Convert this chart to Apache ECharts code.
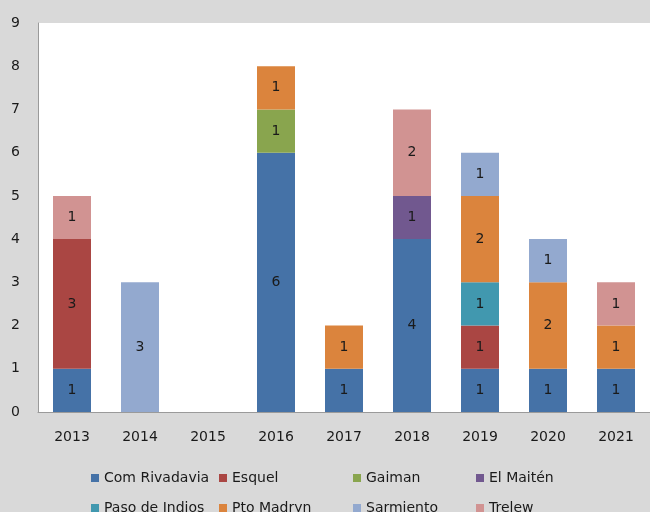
<!DOCTYPE html>
<html>
<head>
<meta charset="utf-8">
<script src="https://cdn.jsdelivr.net/npm/echarts@6/dist/echarts.min.js"></script>
<style>
  html, body { margin: 0; padding: 0; background: #d9d9d9; }
  #chart { width: 650px; height: 512px; }
</style>
</head>
<body>
<div id="chart"></div>
<script>
var years = ['2013', '2014', '2015', '2016', '2017', '2018', '2019', '2020', '2021']
var names = ['Com Rivadavia', 'Esquel', 'Gaiman', 'El Maitén', 'Paso de Indios', 'Pto Madryn', 'Sarmiento', 'Trelew']
var colors = ['#4572a7', '#aa4643', '#89a54e', '#71588f', '#4198af', '#db843d', '#93a9cf', '#d19392']

var comRivadavia = [1, 0, 0, 6, 1, 4, 1, 1, 1]
var esquel = [3, 0, 0, 0, 0, 0, 1, 0, 0]
var gaiman = [0, 0, 0, 1, 0, 0, 0, 0, 0]
var elMaiten = [0, 0, 0, 0, 0, 1, 0, 0, 0]
var pasoDeIndios = [0, 0, 0, 0, 0, 0, 1, 0, 0]
var ptoMadryn = [0, 0, 0, 1, 1, 0, 2, 2, 1]
var sarmiento = [0, 3, 0, 0, 0, 0, 1, 1, 0]
var trelew = [1, 0, 0, 0, 0, 2, 0, 0, 1]

var values = [comRivadavia, esquel, gaiman, elMaiten, pasoDeIndios, ptoMadryn, sarmiento, trelew]

var font = 'DejaVu Sans'
var chart = echarts.init(document.getElementById('chart'))

// one legend per item so they sit in a 4 column grid
var legendLeft = [86, 214, 348, 471]
var legendTop = [466, 496]
var legends = names.map(function (n, i) {
  return {
    data: [n],
    left: legendLeft[i % 4],
    top: legendTop[Math.floor(i / 4)],
    icon: 'rect',
    itemWidth: 8,
    itemHeight: 8,
    itemGap: 6,
    selectedMode: false,
    textStyle: { fontFamily: font, fontSize: 14, color: '#1a1a1a' }
  }
})

var series = names.map(function (n, i) {
  return {
    name: n,
    type: 'bar',
    stack: 'total',
    barWidth: 38,
    itemStyle: { color: colors[i] },
    label: {
      show: true,
      position: 'inside',
      fontFamily: font,
      fontSize: 14,
      color: '#1a1a1a',
      formatter: function (p) { return p.value > 0 ? p.value : '' }
    },
    data: values[i].map(function (v) { return v > 0 ? v : null })
  }
})

var option = {
  backgroundColor: '#d9d9d9',
  animation: false,
  legend: legends,
  grid: {
    left: 38,
    right: -5,
    top: 23,
    bottom: 100,
    show: true,
    backgroundColor: '#ffffff',
    borderWidth: 0
  },
  xAxis: {
    type: 'category',
    data: years,
    axisLine: { lineStyle: { color: '#9a9a9a' } },
    axisTick: { show: false },
    axisLabel: { fontFamily: font, fontSize: 14, color: '#1a1a1a', margin: 18 }
  },
  yAxis: {
    type: 'value',
    min: 0,
    max: 9,
    interval: 1,
    axisLine: { show: true, lineStyle: { color: '#9a9a9a' } },
    axisTick: { show: false },
    splitLine: { show: false },
    axisLabel: { fontFamily: font, fontSize: 14, color: '#1a1a1a', margin: 18 }
  },
  series: series
}
chart.setOption(option)
</script>
</body>
</html>
